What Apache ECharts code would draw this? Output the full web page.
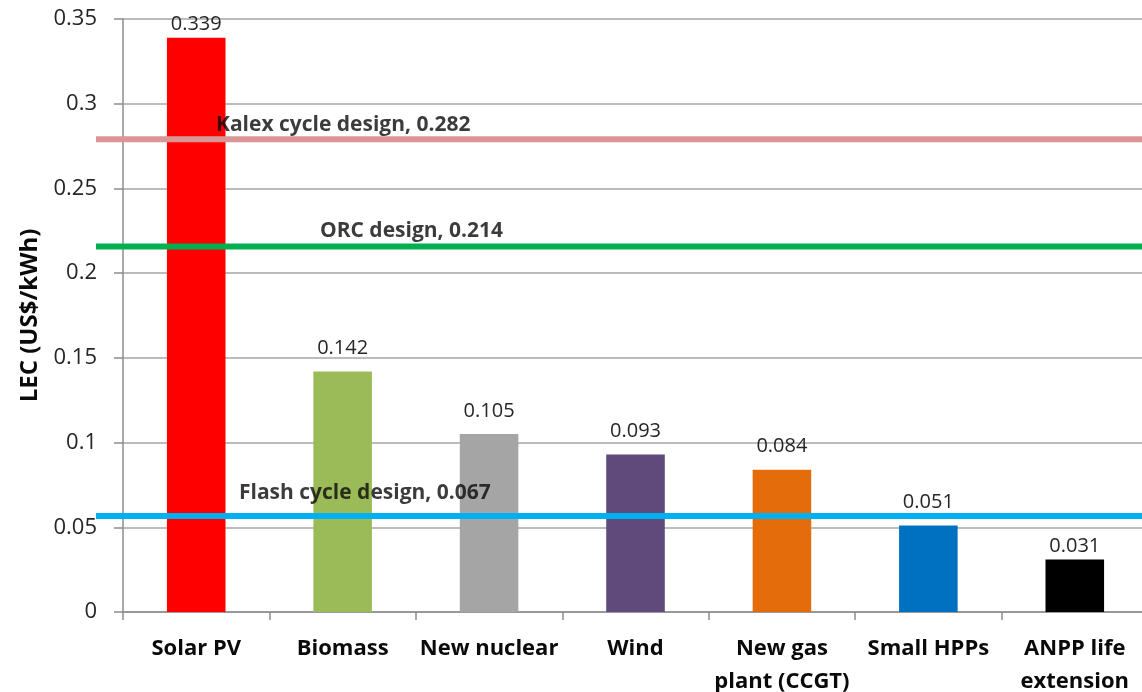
<!DOCTYPE html>
<html>
<head>
<meta charset="utf-8">
<script src="https://cdn.jsdelivr.net/npm/echarts@6/dist/echarts.min.js"></script>
<style>
html,body{margin:0;padding:0;background:#fff;}
#chart{width:1142px;height:692px;}
</style>
</head>
<body>
<div id="chart"></div>
<script>
// ---- data ----
var categories = ['Solar PV', 'Biomass', 'New nuclear', 'Wind', 'New gas\nplant (CCGT)', 'Small HPPs', 'ANPP life\nextension'];
var values = [0.339, 0.142, 0.105, 0.093, 0.084, 0.051, 0.031];
var barColors = ['#FF0000', '#9BBB59', '#A5A5A5', '#604A7B', '#E46C0A', '#0070C0', '#000000'];
var refNames = ['Kalex cycle design, 0.282', 'ORC design, 0.214', 'Flash cycle design, 0.067'];
var refLevels = [0.279, 0.2157, 0.0567];   // where the lines are drawn in the picture
var refColors = ['#D99694', '#00B050', '#00B0F0'];
var yMin = 0, yMax = 0.35, yStep = 0.05;
var yTitle = 'LEC (US$/kWh)';

// label anchor positions (fraction across overlay grid, value on y)
var refLabelX = [0.1147, 0.2141, 0.1367];
var refLabelY = [0.2875, 0.225, 0.0702];

var FONT = '"Open Sans", "DejaVu Sans", sans-serif';
var labelGaps = [3, 13, 13, 13, 13, 13, 3];

var series = [];
series.push({
  type: 'bar',
  xAxisIndex: 0, yAxisIndex: 0,
  barWidth: '40%',
  data: values.map(function (v, i) {
    return { value: v, itemStyle: { color: barColors[i] }, label: { distance: labelGaps[i] } };
  }),
  label: {
    show: true, position: 'top',
    fontFamily: FONT, fontSize: 20, color: '#262626'
  },
  z: 2
});
refLevels.forEach(function (lv, i) {
  series.push({
    type: 'line',
    xAxisIndex: 1, yAxisIndex: 1,
    data: [[0, lv], [1, lv]],
    symbol: 'none',
    lineStyle: { color: refColors[i], width: 6 },
    z: 3, silent: true
  });
});
series.push({
  type: 'scatter',
  xAxisIndex: 1, yAxisIndex: 1,
  symbolSize: 0,
  data: refNames.map(function (n, i) { return { value: [refLabelX[i], refLabelY[i]], name: n }; }),
  label: {
    show: true, position: 'right', distance: 0,
    formatter: function (p) { return p.name; },
    fontFamily: FONT, fontWeight: 'bold', fontSize: 21, color: '#0a0a0a'
  },
  z: 5, silent: true
});

var chart = echarts.init(document.getElementById('chart'));
chart.setOption({
  animation: false,
  backgroundColor: '#fff',
  grid: [
    { left: 123, right: -6, top: 19, bottom: 80, containLabel: false, outerBoundsMode: 'none' },
    { left: 96, right: 0, top: 19, bottom: 80, containLabel: false, outerBoundsMode: 'none' }
  ],
  xAxis: [
    {
      type: 'category', gridIndex: 0, data: categories,
      axisLine: { lineStyle: { color: '#8c8c8c', width: 1.5 } },
      axisTick: { show: true, length: 8, alignWithLabel: false, lineStyle: { color: '#8c8c8c', width: 1.5 } },
      axisLabel: {
        interval: 0, margin: 20, fontFamily: FONT, fontWeight: 'bold',
        fontSize: 22, lineHeight: 33, color: '#0a0a0a'
      }
    },
    { type: 'value', gridIndex: 1, min: 0, max: 1, show: false }
  ],
  yAxis: [
    {
      type: 'value', gridIndex: 0, min: yMin, max: yMax, interval: yStep,
      name: yTitle, nameLocation: 'middle', nameGap: 80, nameRotate: 90,
      nameTextStyle: { fontFamily: FONT, fontWeight: 'bold', fontSize: 24, color: '#0a0a0a' },
      axisLine: { show: true, lineStyle: { color: '#8c8c8c', width: 1.5 } },
      axisTick: { show: true, length: 9, lineStyle: { color: '#8c8c8c', width: 1.5 } },
      axisLabel: { margin: 26, fontFamily: FONT, fontSize: 22, color: '#262626' },
      splitLine: { show: true, lineStyle: { color: '#a6a6a6', width: 1.5 } }
    },
    { type: 'value', gridIndex: 1, min: yMin, max: yMax, show: false }
  ],
  series: series
});
</script>
</body>
</html>
